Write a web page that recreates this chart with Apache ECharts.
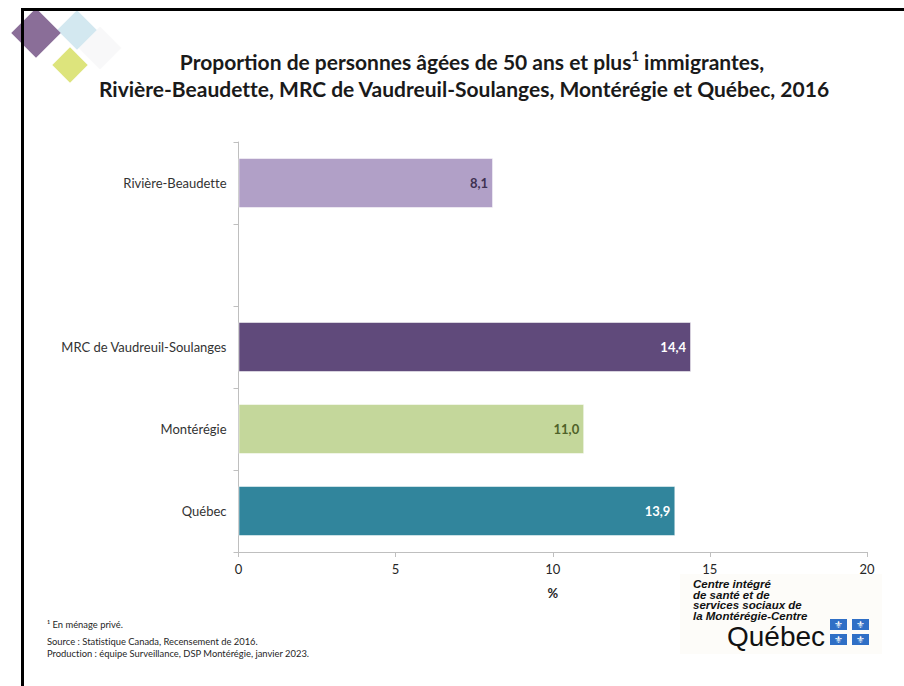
<!DOCTYPE html>
<html><head><meta charset="utf-8">
<script src="https://cdn.jsdelivr.net/npm/echarts@6/dist/echarts.min.js"></script>
<style>html,body{margin:0;padding:0;background:#fff}#c{width:904px;height:686px}#c text,#c svg{font-variant-ligatures:none;font-feature-settings:"liga" 0,"clig" 0}</style>
</head><body><div id="c"></div>
<script>
var categories = ['Rivière-Beaudette', '', 'MRC de Vaudreuil-Soulanges', 'Montérégie', 'Québec'];
var values = [8.1, null, 14.4, 11.0, 13.9];
var barColors = ['#b1a0c7', '#ffffff', '#604a7b', '#c4d79b', '#31859c'];
var labelColors = ['#3f3151', '#ffffff', '#ffffff', '#4f6228', '#ffffff'];
var xTicks = [0, 5, 10, 15, 20];

var F = 'Lato, "Open Sans", sans-serif';
var chart = echarts.init(document.getElementById('c'), null, { renderer: 'svg' });
var data = values.map(function (v, i) {
  return v == null ? '-' : {
    value: v,
    itemStyle: { color: barColors[i] },
    label: { color: labelColors[i] }
  };
});
function fleur(x, y) {
  return { type: 'text', z: 6, x: x, y: y, style: { text: '⚜', fontSize: 10, fill: '#fff', align: 'center', verticalAlign: 'middle', fontFamily: '"DejaVu Sans"' } };
}
function quad(x, y) {
  return { type: 'rect', z: 5, shape: { x: x, y: y, width: 17, height: 11 }, style: { fill: '#2f6fc6' } };
}
chart.setOption({
  animation: false,
  backgroundColor: '#ffffff',
  grid: { left: 238.5, right: 37, top: 142, bottom: 134, containLabel: false },
  xAxis: {
    type: 'value', min: xTicks[0], max: xTicks[xTicks.length - 1], interval: 5,
    name: '%', nameLocation: 'middle', nameGap: 34,
    nameTextStyle: { fontFamily: F, fontWeight: 'bold', fontSize: 13, color: '#262626' },
    axisLine: { show: true, lineStyle: { color: '#bfbfbf', width: 1 } },
    axisTick: { show: true, length: 5, lineStyle: { color: '#bfbfbf' } },
    axisLabel: { fontFamily: F, fontSize: 13, color: '#262626', margin: 10 },
    splitLine: { show: false }
  },
  yAxis: {
    type: 'category', inverse: true, data: categories,
    axisLine: { show: true, lineStyle: { color: '#bfbfbf', width: 1 } },
    axisTick: { show: true, length: 5, alignWithLabel: false, interval: 0, lineStyle: { color: '#bfbfbf' } },
    axisLabel: { fontFamily: F, fontSize: 13, color: '#333333', margin: 12, interval: 0 }
  },
  series: [{
    type: 'bar', data: data, barWidth: 50,
    itemStyle: { borderColor: 'rgba(255,255,255,0.5)', borderWidth: 1 },
    label: {
      show: true, position: 'insideRight', distance: 5,
      fontFamily: F, fontWeight: 'bold', fontSize: 13,
      formatter: function (p) { return p.value.toFixed(1).replace('.', ','); }
    }
  }],
  graphic: [
    // frame
    { type: 'line', shape: { x1: 22, y1: 9.5, x2: 904, y2: 9.5 }, style: { stroke: '#000', lineWidth: 3 }, z: 10 },
    { type: 'line', shape: { x1: 22.5, y1: 8, x2: 22.5, y2: 686 }, style: { stroke: '#000', lineWidth: 3 }, z: 10 },
    // decorative diamonds
    { type: 'rect', x: 100, y: 48, rotation: Math.PI / 4,
      shape: { x: -15, y: -15, width: 30, height: 30 }, style: { fill: '#f8f8f9' }, z: 1 },
    { type: 'rect', x: 77, y: 30, rotation: Math.PI / 4,
      shape: { x: -14, y: -14, width: 28, height: 28 }, style: { fill: 'rgba(200,226,236,0.8)' }, z: 2 },
    { type: 'rect', x: 36, y: 33, rotation: Math.PI / 4,
      shape: { x: -17.5, y: -17.5, width: 35, height: 35 }, style: { fill: '#8a6e98' }, z: 3 },
    { type: 'rect', x: 70, y: 65, rotation: Math.PI / 4,
      shape: { x: -12.5, y: -12.5, width: 25, height: 25 }, style: { fill: '#dde47c' }, z: 3 },
    // title
    { type: 'text', x: 472, y: 61, style: {
      text: 'Proportion de personnes âgées de 50 ans et plus{s|1} immigrantes,',
      fontFamily: F, fontWeight: 'bold', fontSize: 21, fill: '#1a1a1a', align: 'center', verticalAlign: 'middle',
      rich: { s: { fontSize: 13, fontWeight: 'bold', fontFamily: F, verticalAlign: 'top', padding: [0, 0, 10, 0], fill: '#1a1a1a' } }
    } },
    { type: 'text', x: 464, y: 88, style: {
      text: 'Rivière-Beaudette, MRC de Vaudreuil-Soulanges, Montérégie et Québec, 2016',
      fontFamily: F, fontWeight: 'bold', fontSize: 21, fill: '#1a1a1a', align: 'center', verticalAlign: 'middle'
    } },
    // footnotes
    { type: 'text', x: 47, y: 620, style: { text: '¹ En ménage privé.', fontFamily: F, fontSize: 9.4, fill: '#262626' } },
    { type: 'text', x: 47, y: 637, style: { text: 'Source : Statistique Canada, Recensement de 2016.', fontFamily: F, fontSize: 9.4, fill: '#262626' } },
    { type: 'text', x: 47, y: 648.5, style: { text: 'Production : équipe Surveillance, DSP Montérégie, janvier 2023.', fontFamily: F, fontSize: 9.4, fill: '#262626' } },
    // logo
    { type: 'rect', shape: { x: 680, y: 574, width: 202, height: 80 }, style: { fill: '#fdfcf9' }, z: 0 },
    { type: 'text', x: 693, y: 579, z: 5, style: {
      text: 'Centre intégré\nde santé et de\nservices sociaux de\nla Montérégie-Centre',
      fontFamily: '"Liberation Sans", Arial, sans-serif', fontWeight: 'bold', fontStyle: 'italic', fontSize: 11.5, lineHeight: 10.5, fill: '#111' } },
    { type: 'text', x: 727, y: 622, z: 5, style: { text: 'Québec', fontFamily: '"Liberation Sans", Arial, sans-serif', fontSize: 28, fill: '#111' } },
    quad(830, 619), quad(852, 619), quad(830, 634), quad(852, 634),
    fleur(838.5, 624.5), fleur(860.5, 624.5), fleur(838.5, 639.5), fleur(860.5, 639.5)
  ]
});
</script></body></html>
